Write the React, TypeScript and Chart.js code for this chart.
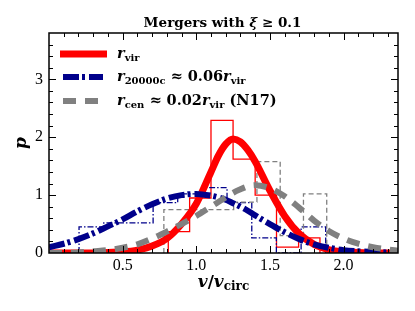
import React, { useEffect, useRef } from "react";
import { Chart, registerables } from "chart.js";
Chart.register(...registerables);

const xTicks = [0.5, 1.0, 1.5, 2.0];
const yTicks = [0, 1, 2, 3];
const X_MIN = 0;
const X_MAX = 2.37;
const Y_MIN = 0;
const Y_MAX = 3.8;

// histogram bin edges and heights
const redEdges = [0.81, 0.955, 1.1, 1.25, 1.4, 1.545, 1.695, 1.84];
const redHist = [0.37, 0.95, 2.29, 1.62, 1.0, 0.1, 0.26];

const blueEdges = [0.204, 0.372, 0.539, 0.707, 0.874, 1.042, 1.209, 1.377, 1.544, 1.712, 1.879];
const blueHist = [0.45, 0.52, 0.52, 0.87, 1.02, 1.13, 0.87, 0.26, 0.0, 0.45];

const grayEdges = [0.78, 0.938, 1.096, 1.254, 1.412, 1.57, 1.728, 1.886];
const grayHist = [0.75, 0.75, 0.75, 0.88, 1.58, 0.3, 1.02, 0.15];

// fitted curves
const fitX = [0.0, 0.1, 0.2, 0.3, 0.4, 0.5, 0.6, 0.7, 0.8, 0.9, 1.0, 1.1, 1.15, 1.2, 1.25, 1.3, 1.35, 1.4, 1.5, 1.6, 1.7, 1.8, 1.9, 2.0, 2.1, 2.2, 2.3, 2.37];
const redFit = [0.0, 0.0, 0.0, 0.0, 0.01, 0.02, 0.05, 0.12, 0.25, 0.5, 0.85, 1.4, 1.68, 1.88, 1.97, 1.92, 1.78, 1.58, 1.08, 0.64, 0.33, 0.15, 0.06, 0.02, 0.01, 0.0, 0.0, 0.0];
const blueFit = [0.1, 0.16, 0.24, 0.34, 0.46, 0.58, 0.72, 0.84, 0.94, 1.0, 1.02, 0.99, 0.96, 0.92, 0.86, 0.8, 0.73, 0.65, 0.5, 0.36, 0.24, 0.15, 0.09, 0.05, 0.03, 0.02, 0.01, 0.01];
const grayFit = [0.0, 0.0, 0.01, 0.03, 0.05, 0.09, 0.15, 0.25, 0.37, 0.5, 0.64, 0.8, 0.88, 0.96, 1.04, 1.1, 1.15, 1.17, 1.12, 0.98, 0.78, 0.56, 0.38, 0.25, 0.16, 0.1, 0.06, 0.04];

const RED = "#ff0000";
const BLUE = "#00008b";
const GRAY = "#808080";
const SERIF = "'Liberation Serif', 'DejaVu Serif', serif";
const TSERIF = "'DejaVu Serif', 'Liberation Serif', serif";

function histPoints(edges: number[], vals: number[]) {
  const pts: { x: number; y: number }[] = [{ x: edges[0], y: 0 }];
  for (let i = 0; i < vals.length; i++) pts.push({ x: edges[i], y: vals[i] });
  pts.push({ x: edges[edges.length - 1], y: 0 });
  return pts;
}

function curvePoints(xs: number[], ys: number[]) {
  return xs.map((x, i) => ({ x, y: ys[i] }));
}

type Part = { t: string; f: string; dy?: number };

function richWidth(ctx: CanvasRenderingContext2D, parts: Part[]) {
  let w = 0;
  for (const p of parts) {
    ctx.font = p.f;
    w += ctx.measureText(p.t).width;
  }
  return w;
}

function drawRich(ctx: CanvasRenderingContext2D, x: number, y: number, parts: Part[], align: "left" | "center" = "left") {
  let cx = align === "center" ? x - richWidth(ctx, parts) / 2 : x;
  ctx.textAlign = "left";
  ctx.textBaseline = "alphabetic";
  for (const p of parts) {
    ctx.font = p.f;
    ctx.fillText(p.t, cx, y + (p.dy || 0));
    cx += ctx.measureText(p.t).width;
  }
}

const B = (s: number) => `bold ${s}px ${TSERIF}`;
const BI = (s: number) => `italic bold ${s}px ${TSERIF}`;

const decor = {
  id: "decor",
  afterDraw(chart: any) {
    const ctx: CanvasRenderingContext2D = chart.ctx;
    const a = chart.chartArea;
    const xs = chart.scales.x;
    const ys = chart.scales.y;
    ctx.save();
    ctx.fillStyle = "#000";
    ctx.strokeStyle = "#000";
    // frame
    ctx.lineWidth = 1.5;
    ctx.strokeRect(a.left, a.top, a.right - a.left, a.bottom - a.top);
    // ticks
    ctx.lineWidth = 1;
    ctx.beginPath();
    for (let i = 1; i <= 23; i++) {
      const v = i / 10;
      const px = Math.round(xs.getPixelForValue(v)) + 0.5;
      const major = i % 5 === 0;
      const L = major ? 7 : 4;
      ctx.moveTo(px, a.bottom);
      ctx.lineTo(px, a.bottom - L);
      ctx.moveTo(px, a.top);
      ctx.lineTo(px, a.top + L);
    }
    for (let i = 1; i <= 18; i++) {
      const v = i / 5;
      const py = Math.round(ys.getPixelForValue(v)) + 0.5;
      const major = i % 5 === 0;
      const L = major ? 7 : 4;
      ctx.moveTo(a.left, py);
      ctx.lineTo(a.left + L, py);
      ctx.moveTo(a.right, py);
      ctx.lineTo(a.right - L, py);
    }
    ctx.stroke();

    const cx = (a.left + a.right) / 2;
    // title
    drawRich(ctx, cx - 1, 27, [
      { t: "Mergers with ", f: B(13.5) },
      { t: "ξ", f: BI(13.5) },
      { t: " ≥ 0.1", f: B(13.5) },
    ], "center");
    // x label
    drawRich(ctx, cx, 287, [
      { t: "v", f: BI(17) },
      { t: "/", f: B(17) },
      { t: "v", f: BI(17) },
      { t: "circ", f: B(12), dy: 3 },
    ], "center");
    // y label
    ctx.save();
    ctx.translate(26, 143);
    ctx.rotate(-Math.PI / 2);
    drawRich(ctx, 0, 0, [{ t: "p", f: BI(17) }], "center");
    ctx.restore();

    // legend
    const lx0 = 60;
    const lx1 = 107;
    const rows = [54, 77, 101];
    ctx.lineCap = "butt";
    ctx.strokeStyle = RED;
    ctx.lineWidth = 7;
    ctx.setLineDash([]);
    ctx.beginPath();
    ctx.moveTo(lx0, rows[0]);
    ctx.lineTo(lx1, rows[0]);
    ctx.stroke();
    ctx.strokeStyle = BLUE;
    ctx.lineWidth = 6;
    ctx.setLineDash([16, 3, 3, 4]);
    ctx.beginPath();
    ctx.moveTo(lx0 + 3, rows[1]);
    ctx.lineTo(lx1 - 4, rows[1]);
    ctx.stroke();
    ctx.strokeStyle = GRAY;
    ctx.setLineDash([13, 9]);
    ctx.beginPath();
    ctx.moveTo(lx0 + 3, rows[2]);
    ctx.lineTo(lx1 - 4, rows[2]);
    ctx.stroke();
    ctx.setLineDash([]);

    ctx.fillStyle = "#000";
    const tx = 117;
    const M = 14.5;
    const S = 10;
    drawRich(ctx, tx, rows[0] + 4, [
      { t: "r", f: BI(M) },
      { t: "vir", f: B(S), dy: 3 },
    ]);
    drawRich(ctx, tx, rows[1] + 4, [
      { t: "r", f: BI(M) },
      { t: "20000c", f: B(S), dy: 3 },
      { t: " ≈ 0.06", f: B(M) },
      { t: "r", f: BI(M) },
      { t: "vir", f: B(S), dy: 3 },
    ]);
    drawRich(ctx, tx, rows[2] + 4, [
      { t: "r", f: BI(M) },
      { t: "cen", f: B(S), dy: 3 },
      { t: " ≈ 0.02", f: B(M) },
      { t: "r", f: BI(M) },
      { t: "vir", f: B(S), dy: 3 },
      { t: " (N17)", f: B(M) },
    ]);
    ctx.restore();
  },
};

export default function App() {
  const ref = useRef<HTMLCanvasElement | null>(null);
  useEffect(() => {
    if (!ref.current) return;
    const chart = new Chart(ref.current, {
      type: "line",
      data: {
        datasets: [
          {
            data: curvePoints(fitX, grayFit),
            borderColor: GRAY,
            borderWidth: 6,
            borderDash: [13, 9],
            pointRadius: 0,
            cubicInterpolationMode: "monotone",
            fill: false,
            order: 0,
          },
          {
            data: curvePoints(fitX, blueFit),
            borderColor: BLUE,
            borderWidth: 6,
            borderDash: [16, 3, 3, 4],
            pointRadius: 0,
            cubicInterpolationMode: "monotone",
            fill: false,
            order: 1,
          },
          {
            data: curvePoints(fitX, redFit),
            borderColor: RED,
            borderWidth: 7,
            pointRadius: 0,
            cubicInterpolationMode: "monotone",
            fill: false,
            order: 2,
          },
          {
            data: histPoints(grayEdges, grayHist),
            borderColor: GRAY,
            borderWidth: 1.3,
            borderDash: [5, 3],
            pointRadius: 0,
            stepped: "before",
            fill: false,
            order: 3,
          },
          {
            data: histPoints(blueEdges, blueHist),
            borderColor: BLUE,
            borderWidth: 1.3,
            borderDash: [6, 2, 1.5, 2],
            pointRadius: 0,
            stepped: "before",
            fill: false,
            order: 4,
          },
          {
            data: histPoints(redEdges, redHist),
            borderColor: RED,
            borderWidth: 1.3,
            pointRadius: 0,
            stepped: "before",
            fill: false,
            order: 5,
          },
        ],
      },
      options: {
        animation: false,
        responsive: false,
        maintainAspectRatio: false,
        layout: { padding: { left: 0, right: 17, top: 33, bottom: 0 } },
        plugins: { legend: { display: false }, tooltip: { enabled: false }, title: { display: false } },
        scales: {
          x: {
            type: "linear",
            min: X_MIN,
            max: X_MAX,
            afterBuildTicks: (s: any) => {
              s.ticks = xTicks.map((v) => ({ value: v }));
            },
            afterFit: (s: any) => {
              s.height = 58;
            },
            grid: { display: false, drawTicks: false },
            border: { display: false },
            ticks: {
              padding: 3,
              color: "#000",
              font: { family: SERIF, size: 16 },
              callback: (v: any) => Number(v).toFixed(1),
            },
          },
          y: {
            type: "linear",
            min: Y_MIN,
            max: Y_MAX,
            afterBuildTicks: (s: any) => {
              s.ticks = yTicks.map((v) => ({ value: v }));
            },
            afterFit: (s: any) => {
              s.width = 49;
            },
            grid: { display: false, drawTicks: false },
            border: { display: false },
            ticks: {
              padding: 6,
              color: "#000",
              font: { family: SERIF, size: 16 },
              callback: (v: any) => String(v),
            },
          },
        },
      },
      plugins: [decor],
    } as any);
    return () => chart.destroy();
  }, []);
  return (
    <div style={{ position: "fixed", left: 0, top: 0, width: 415, height: 311, background: "#fff" }}>
      <canvas ref={ref} width={415} height={311} style={{ display: "block" }} />
    </div>
  );
}
